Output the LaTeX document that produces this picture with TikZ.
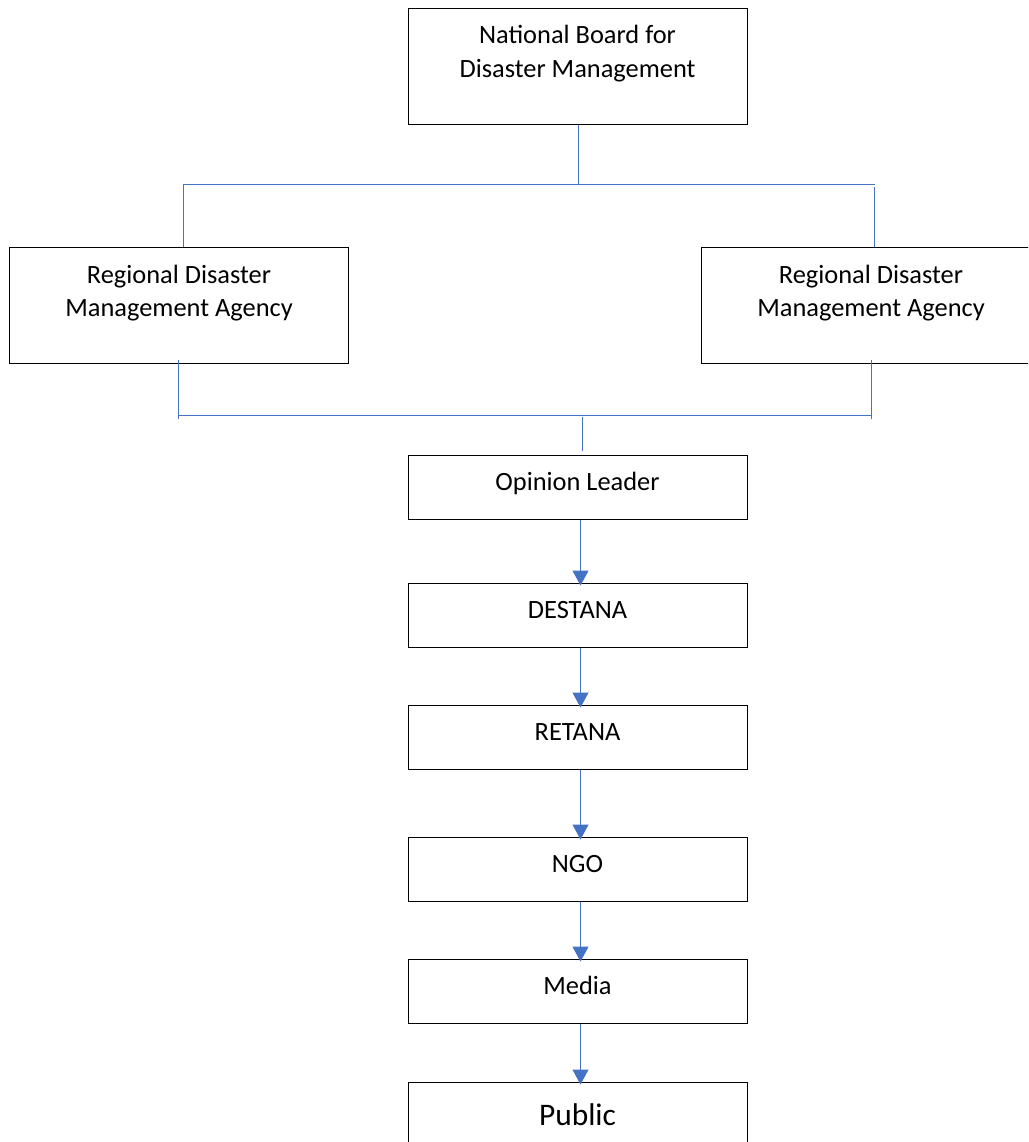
\documentclass[tikz,border=0pt]{standalone}
\usepackage{fontspec}
\setmainfont{Carlito}
\usetikzlibrary{arrows.meta}
\definecolor{linkblue}{HTML}{4472C4}
\newcommand{\boxwidth}{339pt}
\newcommand{\orgfont}{\fontsize{26.4}{33.5}\selectfont}
\newcommand{\pubfont}{\fontsize{31.4}{38}\selectfont}

\begin{document}
\begin{tikzpicture}[x=1pt,y=-1pt,>={Triangle[length=15pt,width=16pt]},
    orgbox/.style={draw=black,line width=1pt,minimum width=\boxwidth,inner sep=0pt,align=center,font=\orgfont},
    widebox/.style={orgbox,minimum height=116pt,text height=52pt,text depth=29pt},
    slimbox/.style={orgbox,minimum height=64pt,text height=17pt,text depth=10pt},
    link/.style={linkblue,line width=1pt}]

\useasboundingbox (0,0) rectangle (1028,1142);
\clip (0,0) rectangle (1028,1142);

% boxes
\node[widebox,text depth=31pt] (nbdm) at (577.5,67) {National Board for\\Disaster Management};
\node[widebox] (rdmaL) at (179,305) {Regional Disaster\\Management Agency};
\node[widebox] (rdmaR) at (871,305) {Regional Disaster\\Management Agency};
\node[slimbox] (ol) at (577.5,487) {Opinion Leader};
\node[slimbox] (destana) at (577.5,615) {DESTANA};
\node[slimbox] (retana) at (577.5,737) {RETANA};
\node[slimbox] (ngo) at (577.5,869) {NGO};
\node[slimbox] (media) at (577.5,991) {Media};
\node[orgbox,font=\pubfont,minimum height=70pt,text height=21pt,text depth=5pt] (public) at (577.5,1117) {Public};

% tree coordinates
\coordinate (upL) at (183.5,184.5);
\coordinate (upR) at (874.5,184.5);
\coordinate (loL) at (178.5,415.5);
\coordinate (loR) at (871.5,415.5);
\coordinate (loM) at (582.5,417);

\draw[link] ([xshift=1pt]nbdm.south) -- ([xshift=1pt]nbdm.south |- upL);
\draw[link] (upL) -- (upR);
\draw[link] (upL) -- (upL |- rdmaL.north);
\draw[link] ([yshift=-3pt]upR) -- (upR |- rdmaR.north);
\draw[link] ([yshift=4pt]rdmaL.south -| loL) -- ([yshift=-3pt]loL);
\draw[link] ([yshift=4pt]rdmaR.south -| loR) -- ([yshift=-3pt]loR);
\draw[link] (loL) -- (loR);
\draw[link] (loM) -- ([yshift=4pt]ol.north -| loM);

% arrows down the chain
\foreach \from/\to in {ol/destana,destana/retana,retana/ngo,ngo/media,media/public}
    \draw[link,->,shorten >=-3pt] ([xshift=3pt]\from.south) -- ([xshift=3pt]\to.north);

\end{tikzpicture}
\end{document}
